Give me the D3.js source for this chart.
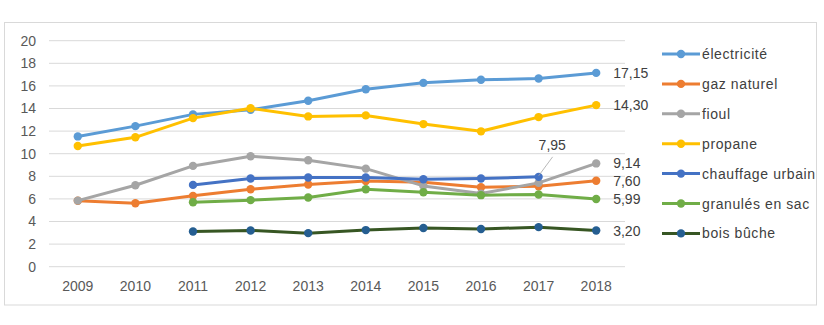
<!DOCTYPE html>
<html>
<head>
<meta charset="utf-8">
<script src="https://cdn.jsdelivr.net/npm/d3@7"></script>
<style>
  body { margin: 0; background: #fff; }
  text { font-family: "Liberation Sans", Arial, sans-serif; }
</style>
</head>
<body>
<div id="chart"></div>
<script>
const years = ["2009","2010","2011","2012","2013","2014","2015","2016","2017","2018"];
const yTicks = [0, 2, 4, 6, 8, 10, 12, 14, 16, 18, 20];

const electricite = [11.53, 12.44, 13.48, 13.89, 14.68, 15.71, 16.27, 16.54, 16.65, 17.15];
const gazNaturel = [5.83, 5.62, 6.27, 6.86, 7.27, 7.59, 7.47, 7.03, 7.12, 7.60];
const fioul = [5.85, 7.21, 8.92, 9.77, 9.42, 8.68, 7.15, 6.47, 7.42, 9.14];
const propane = [10.68, 11.45, 13.15, 14.03, 13.30, 13.39, 12.62, 11.98, 13.24, 14.30];
const chauffageUrbain = [null, null, 7.24, 7.80, 7.89, 7.89, 7.74, 7.80, 7.95, null];
const granules = [null, null, 5.71, 5.89, 6.12, 6.86, 6.59, 6.33, 6.39, 5.99];
const boisBuche = [null, null, 3.12, 3.21, 2.97, 3.24, 3.42, 3.33, 3.50, 3.20];

const seriesNames = ["électricité", "gaz naturel", "fioul", "propane", "chauffage urbain", "granulés en sac", "bois bûche"];
const seriesValues = [electricite, gazNaturel, fioul, propane, chauffageUrbain, granules, boisBuche];
const lineColors = ["#5B9BD5", "#ED7D31", "#A5A5A5", "#FFC000", "#4472C4", "#70AD47", "#375623"];
const dotColors = ["#5B9BD5", "#ED7D31", "#A5A5A5", "#FFC000", "#4472C4", "#70AD47", "#255E91"];

// end labels: [series index, year index, text]
const endLabels = [[0, 9, "17,15"], [3, 9, "14,30"], [2, 9, "9,14"], [1, 9, "7,60"], [5, 9, "5,99"], [6, 9, "3,20"]];

const W = 824, H = 325;
const svg = d3.select("#chart").append("svg")
    .attr("width", W).attr("height", H);

svg.append("rect")
    .attr("x", 4.5).attr("y", 22.5)
    .attr("width", 812).attr("height", 282.5)
    .attr("fill", "#fff").attr("stroke", "#D9D9D9");

const x = d3.scaleBand().domain(years).range([49, 625]);
const y = d3.scaleLinear().domain([0, 20]).range([266.7, 40.7]);

// grid
svg.append("g").selectAll("line").data(yTicks).enter().append("line")
    .attr("x1", 49).attr("x2", 625)
    .attr("y1", d => y(d)).attr("y2", d => y(d))
    .attr("stroke", "#D9D9D9").attr("stroke-width", 1);

// y axis labels
const yAxis = svg.append("g").attr("transform", "translate(42,0)")
    .call(d3.axisLeft(y).tickValues(yTicks).tickSize(0).tickPadding(6));
yAxis.select(".domain").remove();
yAxis.selectAll("text").attr("fill", "#595959").style("font-size", "14px")
    .style("font-family", "Liberation Sans, Arial, sans-serif");

// x axis labels
const xAxis = svg.append("g").attr("transform", "translate(0,278)")
    .call(d3.axisBottom(x).tickSize(0).tickPadding(3));
xAxis.select(".domain").remove();
xAxis.selectAll("text").attr("fill", "#595959").style("font-size", "14px")
    .style("font-family", "Liberation Sans, Arial, sans-serif");

const cx = i => x(years[i]) + x.bandwidth() / 2;
const line = d3.line()
    .defined(d => d != null)
    .x((d, i) => cx(i))
    .y(d => y(d));

seriesValues.forEach((vals, s) => {
    const g = svg.append("g");
    g.append("path").datum(vals)
        .attr("d", line)
        .attr("fill", "none")
        .attr("stroke", lineColors[s])
        .attr("stroke-width", 3)
        .attr("stroke-linejoin", "round")
        .attr("stroke-linecap", "round");
    g.selectAll("circle").data(vals.map((v, i) => [v, i]).filter(d => d[0] != null))
        .enter().append("circle")
        .attr("cx", d => cx(d[1]))
        .attr("cy", d => y(d[0]))
        .attr("r", 4.2)
        .attr("fill", dotColors[s]);
});

// data labels
svg.append("g").selectAll("text").data(endLabels).enter().append("text")
    .attr("x", d => cx(d[1]) + 17)
    .attr("y", d => y(seriesValues[d[0]][d[1]]) + 5)
    .attr("fill", "#404040")
    .style("font-size", "14px")
    .text(d => d[2]);

// chauffage urbain 2017 label with leader line
const cuX = cx(8), cuY = y(chauffageUrbain[8]);
svg.append("line")
    .attr("x1", cuX).attr("y1", cuY - 1)
    .attr("x2", cuX + 14).attr("y2", cuY - 20)
    .attr("stroke", "#A6A6A6").attr("stroke-width", 0.8);
svg.append("text")
    .attr("x", cuX).attr("y", cuY - 27)
    .attr("fill", "#404040")
    .style("font-size", "14px")
    .text("7,95");

// legend
const legend = svg.append("g").selectAll("g").data(seriesNames).enter().append("g")
    .attr("transform", (d, i) => "translate(662," + (54 + i * 29.9) + ")");
legend.append("line")
    .attr("x1", 0).attr("x2", 38).attr("y1", 0).attr("y2", 0)
    .attr("stroke", (d, i) => lineColors[i]).attr("stroke-width", 3);
legend.append("circle")
    .attr("cx", 19).attr("cy", 0).attr("r", 4.2)
    .attr("fill", (d, i) => dotColors[i]);
legend.append("text")
    .attr("x", 40).attr("y", 5)
    .attr("fill", "#404040")
    .style("font-size", "14px")
    .style("letter-spacing", "0.6px")
    .text(d => d);
</script>
</body>
</html>
